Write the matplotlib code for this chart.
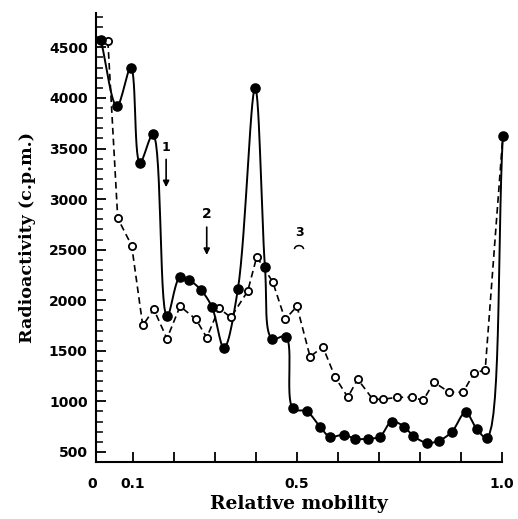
import numpy as np
import matplotlib.pyplot as plt
import matplotlib.transforms as mtransforms
from matplotlib.patches import Arc

# filled circles (solid curve)
mob_filled = [0.022, 0.061, 0.095, 0.117, 0.149, 0.183, 0.215, 0.237, 0.266,
              0.293, 0.322, 0.356, 0.398, 0.422, 0.439, 0.473, 0.490, 0.524,
              0.556, 0.580, 0.615, 0.641, 0.673, 0.702, 0.731, 0.761, 0.783,
              0.816, 0.846, 0.878, 0.911, 0.938, 0.963, 1.002]
cpm_filled = [4570, 3920, 4300, 3360, 3640, 1840, 2230, 2200, 2100,
              1930, 1530, 2110, 4100, 2330, 1620, 1640, 930, 900,
              750, 650, 670, 630, 630, 650, 800, 750, 660,
              590, 610, 700, 890, 730, 640, 3620]

# open circles (dashed curve)
mob_open = [0.039, 0.063, 0.097, 0.124, 0.151, 0.183, 0.215, 0.254, 0.280,
            0.310, 0.339, 0.380, 0.402, 0.441, 0.471, 0.500, 0.532, 0.563,
            0.593, 0.624, 0.648, 0.685, 0.710, 0.744, 0.780, 0.808, 0.834,
            0.871, 0.905, 0.932, 0.959, 1.002]
cpm_open = [4560, 2810, 2540, 1750, 1910, 1620, 1940, 1810, 1630,
            1920, 1830, 2090, 2430, 2180, 1810, 1940, 1440, 1540,
            1240, 1040, 1220, 1020, 1020, 1040, 1040, 1010, 1190,
            1090, 1090, 1280, 1310, 3620]

yticks = [500, 1000, 1500, 2000, 2500, 3000, 3500, 4000, 4500]
xtick_labels = {0.1: '0.1', 0.5: '0.5', 1.0: '1.0'}


def smooth(ax, xs, ys, n=16):
    # centripetal catmull-rom through the points, done in pixel space
    pts = ax.transData.transform(np.column_stack([xs, ys]))
    p = np.vstack([2 * pts[0] - pts[1], pts, 2 * pts[-1] - pts[-2]])
    out = []
    for i in range(1, len(p) - 2):
        p0, p1, p2, p3 = p[i - 1], p[i], p[i + 1], p[i + 2]
        t0 = 0.0
        t1 = t0 + np.linalg.norm(p1 - p0) ** 0.5
        t2 = t1 + np.linalg.norm(p2 - p1) ** 0.5
        t3 = t2 + np.linalg.norm(p3 - p2) ** 0.5
        t = np.linspace(t1, t2, n)[:, None]
        a1 = (t1 - t) / (t1 - t0) * p0 + (t - t0) / (t1 - t0) * p1
        a2 = (t2 - t) / (t2 - t1) * p1 + (t - t1) / (t2 - t1) * p2
        a3 = (t3 - t) / (t3 - t2) * p2 + (t - t2) / (t3 - t2) * p3
        b1 = (t2 - t) / (t2 - t0) * a1 + (t - t0) / (t2 - t0) * a2
        b2 = (t3 - t) / (t3 - t1) * a2 + (t - t1) / (t3 - t1) * a3
        c = (t2 - t) / (t2 - t1) * b1 + (t - t1) / (t2 - t1) * b2
        out.append(c if i == 1 else c[1:])
    out = np.vstack(out)
    d = ax.transData.inverted().transform(out)
    return d[:, 0], d[:, 1]


fig = plt.figure(figsize=(5.18, 5.19), dpi=100)
ax = fig.add_axes([96 / 518, 57 / 519, 406 / 518, 449 / 519])
ax.set_xlim(0.01, 1.0)
ax.set_ylim(400, 4840)

sx, sy = smooth(ax, mob_filled, cpm_filled)
ax.plot(sx, sy, color='black', lw=1.4, clip_on=False, zorder=2)
ax.plot(mob_open, cpm_open, color='black', lw=1.2, linestyle=(0, (4, 2.5)),
        clip_on=False, zorder=2)

ax.plot(mob_open, cpm_open, 'o', ms=5.2, mfc='white', mec='black', mew=1.3,
        clip_on=False, zorder=3)
ax.plot(mob_filled, cpm_filled, 'o', ms=6.6, mfc='black', mec='black',
        clip_on=False, zorder=4)

# peak markers
ax.annotate('', xy=(0.181, 3090), xytext=(0.181, 3420),
            arrowprops=dict(arrowstyle='-|>', color='black', lw=1.2, mutation_scale=9))
ax.text(0.181, 3450, '1', ha='center', va='bottom', fontsize=9, fontweight='bold')
ax.annotate('', xy=(0.280, 2420), xytext=(0.280, 2750),
            arrowprops=dict(arrowstyle='-|>', color='black', lw=1.2, mutation_scale=9))
ax.text(0.280, 2780, '2', ha='center', va='bottom', fontsize=10, fontweight='bold')
ax.text(0.505, 2665, '3', ha='center', va='center', fontsize=9, fontweight='bold')
ax.add_patch(Arc((0.505, 2505), width=0.022, height=70, theta1=15, theta2=165,
                 lw=1.1, color='black'))

for s in ['top', 'right']:
    ax.spines[s].set_visible(False)
ax.spines['left'].set_linewidth(1.5)
ax.spines['bottom'].set_linewidth(1.5)

ax.set_yticks(yticks)
ax.set_yticks(np.arange(500, 4801, 100), minor=True)
ax.set_xticks(np.round(np.arange(0.1, 1.01, 0.1), 1))
ax.set_xticklabels([xtick_labels.get(round(v, 1), '') for v in np.arange(0.1, 1.01, 0.1)])
ax.tick_params(axis='y', which='major', direction='in', length=7, width=1.3, pad=6)
ax.tick_params(axis='y', which='minor', direction='in', length=5, width=1.1)
ax.tick_params(axis='x', direction='in', length=7, width=1.3, pad=11)
for lab in ax.get_xticklabels() + ax.get_yticklabels():
    lab.set_fontweight('bold')
    lab.set_fontsize(10)
trans = mtransforms.blended_transform_factory(ax.transData, ax.transAxes)
ax.text(0.0, -0.034, '0', transform=trans, ha='center', va='top', fontsize=10,
        fontweight='bold', clip_on=False)

ax.set_xlabel('Relative mobility', family='DejaVu Serif', fontweight='bold',
              fontsize=13.5, labelpad=3)
ax.set_ylabel('Radioactivity (c.p.m.)', family='DejaVu Serif', fontweight='bold',
              fontsize=12.6, labelpad=9)

fig.savefig('out.png', dpi=100)
